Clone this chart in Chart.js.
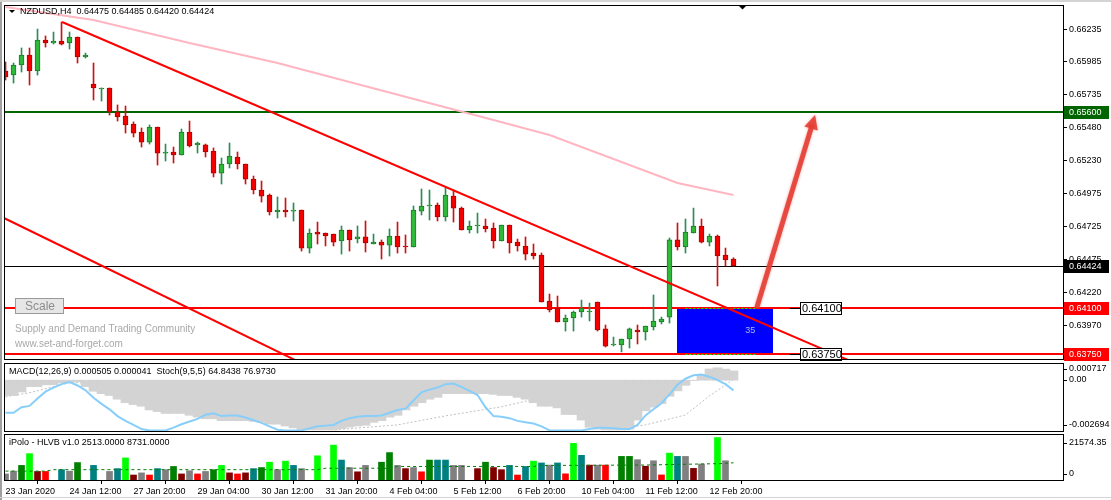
<!DOCTYPE html>
<html>
<head>
<meta charset="utf-8">
<title>NZDUSD,H4</title>
<script src="https://cdn.jsdelivr.net/npm/chart.js@4.4.1/dist/chart.umd.min.js"></script>
<style>
  html, body { margin: 0; padding: 0; background: #ffffff; }
  #wrap { position: relative; width: 1111px; height: 500px; overflow: hidden; background: #ffffff; }
  #wrap canvas { position: absolute; left: 0; }
  #mainChart { top: 0; }
  #macdChart { top: 361px; }
  #volChart { top: 432px; }
  .edge { position: absolute; }
</style>
</head>
<body>
<div id="wrap">
  <canvas id="mainChart" width="1111" height="362"></canvas>
  <canvas id="macdChart" width="1111" height="71"></canvas>
  <canvas id="volChart" width="1111" height="68"></canvas>
  <div class="edge" style="left:0;top:0;width:2px;height:500px;background:#a0a0a0"></div>
  <div class="edge" style="left:0;top:0;width:1111px;height:2px;background:#d4d4d4"></div>
  <div class="edge" style="left:0;top:497px;width:1111px;height:1px;background:#d4d4d4"></div>
</div>
<script>
document.addEventListener('DOMContentLoaded', function () {

    // ---- data ----
    const dateLabels = ['23 Jan 2020', '24 Jan 12:00', '27 Jan 20:00', '29 Jan 04:00', '30 Jan 12:00', '31 Jan 20:00',
        '4 Feb 04:00', '5 Feb 12:00', '6 Feb 20:00', '10 Feb 04:00', '11 Feb 12:00', '12 Feb 20:00'];
    const dateIdx = [0, 8, 16, 24, 32, 40, 48, 56, 64, 72, 80, 88];
    const priceTicks = [0.66235, 0.65985, 0.65735, 0.65480, 0.65230, 0.64975, 0.64725, 0.64475, 0.64220, 0.63970, 0.63720];

    const openP = [0.65914, 0.65883, 0.65960, 0.66036, 0.65914, 0.66151, 0.66128, 0.66143, 0.66128, 0.66174,
        0.66021, 0.65814, 0.65776, 0.65784, 0.65600, 0.65569, 0.65508, 0.65447, 0.65370, 0.65485,
        0.65286, 0.65294, 0.65271, 0.65447, 0.65348, 0.65348, 0.65302, 0.65133, 0.65202, 0.65256,
        0.65202, 0.65087, 0.65003, 0.64965, 0.64835, 0.64850, 0.64842, 0.64850, 0.64559, 0.64682,
        0.64674, 0.64666, 0.64613, 0.64697, 0.64628, 0.64644, 0.64590, 0.64605, 0.64582, 0.64651,
        0.64575, 0.64567, 0.64842, 0.64881, 0.64888, 0.64797, 0.64957, 0.64865, 0.64697, 0.64728,
        0.64728, 0.64712, 0.64613, 0.64735, 0.64605, 0.64575, 0.64521, 0.64506, 0.64154, 0.64100,
        0.63993, 0.64024, 0.64070, 0.64070, 0.64146, 0.63940, 0.63817, 0.63817, 0.63863, 0.63932,
        0.63917, 0.63955, 0.63993, 0.64031, 0.64621, 0.64567, 0.64674, 0.64728, 0.64605, 0.64651,
        0.64506, 0.64475];
    const highP = [0.65983, 0.65975, 0.66090, 0.66090, 0.66235, 0.66182, 0.66212, 0.66289, 0.66212, 0.66174,
        0.66051, 0.65975, 0.65784, 0.65784, 0.65654, 0.65646, 0.65524, 0.65478, 0.65501, 0.65485,
        0.65355, 0.65332, 0.65470, 0.65531, 0.65370, 0.65355, 0.65325, 0.65248, 0.65363, 0.65294,
        0.65202, 0.65110, 0.65072, 0.64973, 0.64950, 0.64942, 0.64904, 0.64850, 0.64705, 0.64758,
        0.64674, 0.64666, 0.64728, 0.64697, 0.64728, 0.64766, 0.64666, 0.64621, 0.64705, 0.64758,
        0.64659, 0.64881, 0.65011, 0.65003, 0.64904, 0.65018, 0.65003, 0.64873, 0.64766, 0.64827,
        0.64781, 0.64751, 0.64735, 0.64735, 0.64628, 0.64644, 0.64590, 0.64521, 0.64207, 0.64192,
        0.64047, 0.64077, 0.64161, 0.64138, 0.64146, 0.63970, 0.63878, 0.63863, 0.63947, 0.63970,
        0.63962, 0.64200, 0.64031, 0.64636, 0.64751, 0.64781, 0.64865, 0.64781, 0.64666, 0.64659,
        0.64559, 0.64485];
    const lowP = [0.65845, 0.65822, 0.65906, 0.65807, 0.65883, 0.66097, 0.66120, 0.66113, 0.66082, 0.65975,
        0.66013, 0.65692, 0.65684, 0.65577, 0.65531, 0.65439, 0.65409, 0.65332, 0.65355, 0.65194,
        0.65225, 0.65210, 0.65271, 0.65332, 0.65286, 0.65256, 0.65103, 0.65049, 0.65172, 0.65164,
        0.65049, 0.64973, 0.64911, 0.64812, 0.64789, 0.64797, 0.64766, 0.64536, 0.64521, 0.64590,
        0.64575, 0.64575, 0.64513, 0.64536, 0.64598, 0.64529, 0.64590, 0.64475, 0.64498, 0.64521,
        0.64521, 0.64567, 0.64812, 0.64774, 0.64766, 0.64766, 0.64758, 0.64697, 0.64674, 0.64674,
        0.64682, 0.64559, 0.64613, 0.64521, 0.64536, 0.64468, 0.64475, 0.64146, 0.64070, 0.63993,
        0.63924, 0.63924, 0.64031, 0.64001, 0.63924, 0.63802, 0.63809, 0.63764, 0.63794, 0.63825,
        0.63855, 0.63932, 0.63978, 0.63985, 0.64544, 0.64521, 0.64674, 0.64598, 0.64575, 0.64269,
        0.64422, 0.64420];
    const closeP = [0.65868, 0.65960, 0.66036, 0.65914, 0.66151, 0.66128, 0.66143, 0.66120, 0.66174, 0.66021,
        0.66036, 0.65784, 0.65784, 0.65600, 0.65562, 0.65501, 0.65439, 0.65370, 0.65485, 0.65286,
        0.65294, 0.65271, 0.65447, 0.65340, 0.65363, 0.65294, 0.65133, 0.65202, 0.65263, 0.65202,
        0.65087, 0.65003, 0.64957, 0.64835, 0.64850, 0.64835, 0.64850, 0.64559, 0.64674, 0.64666,
        0.64651, 0.64605, 0.64697, 0.64621, 0.64644, 0.64598, 0.64605, 0.64582, 0.64651, 0.64567,
        0.64567, 0.64850, 0.64881, 0.64888, 0.64797, 0.64965, 0.64865, 0.64697, 0.64728, 0.64735,
        0.64705, 0.64613, 0.64735, 0.64598, 0.64575, 0.64513, 0.64498, 0.64146, 0.64085, 0.63993,
        0.64024, 0.64070, 0.64100, 0.64077, 0.63932, 0.63809, 0.63825, 0.63863, 0.63940, 0.63917,
        0.63962, 0.64001, 0.64016, 0.64621, 0.64567, 0.64682, 0.64728, 0.64605, 0.64651, 0.64498,
        0.64468, 0.64424];

    // pink moving average, read at a few bars
    const maIdx = [0, 11, 23, 34, 61, 68, 84, 91];
    const maVal = [0.66403, 0.66304, 0.66128, 0.65975, 0.65539, 0.65424, 0.65057, 0.64965];

    // drawn objects: two trend lines, zone, arrow, levels
    const trendAIdx = [7.07, 105.6];
    const trendAPrice = [0.66289, 0.63695];
    const trendBIdx = [-0.2, 36.2];
    const trendBPrice = [0.64789, 0.63702];
    const levelPrices = [0.65600, 0.64424, 0.64100, 0.63750];
    const zoneIdx = [83.9, 95.9];
    const zonePrice = [0.64100, 0.63750];
    const zoneDashIdx = [85, 94];
    const zoneLabelIdx = 99.3;
    const zoneCountIdx = 93.1;
    const arrowIdx = [93.9, 101.2];
    const arrowPrice = [0.64100, 0.65577];

    // MACD / Stoch panel
    const macdHist = [-0.00083, -0.00083, -0.00064, -0.00035, -0.00035, -0.00025, -0.00025, -0.00015, -0.0001, -0.0001,
        -0.00035, -0.0006, -0.00073, -0.00083, -0.00103, -0.00122, -0.00132, -0.00141, -0.00161, -0.0017,
        -0.0018, -0.0018, -0.0018, -0.0019, -0.002, -0.00209, -0.00209, -0.00219, -0.00219, -0.00219,
        -0.00219, -0.00223, -0.00228, -0.00238, -0.00238, -0.00248, -0.00258, -0.00267, -0.00269, -0.00269,
        -0.00269, -0.00269, -0.00262, -0.00254, -0.00248, -0.00244, -0.00228, -0.00219, -0.002, -0.0019,
        -0.00161, -0.00141, -0.00122, -0.00103, -0.00093, -0.00073, -0.00073, -0.00073, -0.00073, -0.00073,
        -0.00073, -0.00077, -0.00083, -0.00083, -0.00093, -0.00103, -0.00122, -0.00141, -0.00141, -0.0015,
        -0.00186, -0.00186, -0.00216, -0.00255, -0.00265, -0.00269, -0.00269, -0.00269, -0.00265, -0.00216,
        -0.00166, -0.00146, -0.00127, -0.00087, -0.00058, -0.00028, -0.00002, 0.00032, 0.00061, 0.00067,
        0.0006, 0.000505];
    const macdSigIdx = [0, 3, 8, 12, 18, 24, 30, 36, 41, 49, 55, 62, 69, 78, 80, 85, 88, 91];
    const macdSigVal = [-0.0009, -0.00068, -0.00014, -0.00014, -0.00063, -0.00134, -0.00188, -0.00237, -0.00269,
        -0.00242, -0.00193, -0.00144, -0.00074, -0.00253, -0.00242, -0.00188, -0.00085, 0.000041];
    const stochMain = [32, 32, 40, 42, 53, 63, 69, 74, 77, 72, 65, 54, 45, 37, 27, 20, 14, 8, 6, 6,
        6, 10, 15, 19, 23, 29, 31, 27, 28, 28, 25, 21, 17, 12, 7, 6, 6, 6, 9, 12,
        13, 14, 20, 24, 26, 27, 27, 28, 32, 36, 38, 50, 62, 66, 69, 74, 75, 70, 64, 58,
        40, 27, 26, 24, 20, 18, 16, 12, 6, 6, 6, 6, 6, 8, 10, 10, 9, 8, 8, 14,
        28, 37, 46, 59, 73, 82, 87, 88, 85, 80, 74, 64.84];

    // volume panel
    const volume = [3074, 4520, 7413, 13379, 4339, 4339, 0, 5243, 4520, 8859,
        0, 7413, 0, 4339, 5786, 11210, 2531, 3616, 2531, 5786,
        5243, 6870, 3074, 4701, 3074, 4339, 5243, 7413, 3616, 3074,
        3616, 5786, 6328, 9040, 5243, 9582, 7413, 5786, 0, 12294,
        0, 17718, 10125, 6328, 4158, 7413, 0, 9040, 13922, 7413,
        5786, 6328, 4158, 10125, 10125, 10125, 7413, 7413, 0, 5786,
        9040, 6328, 5243, 7413, 2531, 6870, 9582, 8662, 7556, 8662,
        3133, 18614, 12532, 7556, 7556, 7556, 0, 11980, 11980, 10321,
        7003, 9768, 2580, 13638, 11980, 11980, 5898, 8109, 0, 21574,
        9768, 0];
    const volKind = ['gy', 'gy', 'dg', 'lm', 'mr', 'rd', '', 'tl', 'gy', 'dg',
        '', 'tl', '', 'gy', 'tl', 'lm', 'mr', 'gy', 'rd', 'tl',
        'gy', 'dg', 'mr', 'gy', 'rd', 'gy', 'dg', 'lm', 'mr', 'rd',
        'mr', 'tl', 'dg', 'lm', 'gy', 'lm', 'tl', 'gy', '', 'lm',
        '', 'lm', 'tl', 'gy', 'mr', 'gy', '', 'dg', 'dg', 'gy',
        'mr', 'gy', 'rd', 'dg', 'tl', 'tl', 'gy', 'gy', '', 'mr',
        'dg', 'mr', 'mr', 'tl', 'rd', 'tl', 'lm', 'tl', 'gy', 'tl',
        'rd', 'lm', 'tl', 'mr', 'gy', 'rd', '', 'dg', 'dg', 'gy',
        'mr', 'gy', 'rd', 'lm', 'tl', 'gy', 'mr', 'gy', '', 'lm',
        'gy', ''];
    const volAvgIdx = [0, 5, 6, 39, 40, 48, 49, 66, 67, 80, 89, 91];
    const volAvgVal = [4520, 4520, 5243, 5243, 5966, 5966, 6870, 6870, 7372, 7600, 8294, 8731];

    // ---- styling ----
    const FONT = 'Liberation Sans';
    Chart.defaults.font.family = FONT;
    Chart.defaults.font.size = 9;
    Chart.defaults.color = '#000000';

    const X_MIN = -0.19, X_MAX = 132.19;
    const volColors = { gy: '#808080', dg: '#008000', lm: '#00ff00', tl: '#008080', mr: '#800000', rd: '#ff0000', '': '#ffffff' };

    const idx = openP.map((o, i) => i);
    const bull = idx.map(i => closeP[i] >= openP[i]);
    const pts = (xs, ys) => xs.map((v, k) => ({ x: v, y: ys[k] }));

    const hiddenX = { type: 'linear', min: X_MIN, max: X_MAX, display: false, offset: false };
    const baseOptions = {
        responsive: false,
        animation: false,
        events: [],
        plugins: { legend: { display: false }, tooltip: { enabled: false } }
    };

    function fixedWidth(scale) {
        scale.width = 48;
        scale.paddingTop = 0;
        scale.paddingBottom = 0;
    }

    // panel border + right side labels for the sub windows
    const panelDecor = {
        id: 'panelDecor',
        afterDraw(chart, args, opts) {
            const { ctx, chartArea: a } = chart;
            const ys = chart.scales.y;
            const inset = opts.inset || 6;
            ctx.save();
            ctx.strokeStyle = '#000';
            ctx.lineWidth = 1;
            ctx.strokeRect(a.left + 0.5, a.top + 0.5, a.right - a.left, a.bottom - a.top);
            ctx.font = '9px "' + FONT + '"';
            ctx.fillStyle = '#000';
            ctx.textBaseline = 'middle';
            if (opts.title) ctx.fillText(opts.title, a.left + 5, a.top + 9);
            (opts.tags || []).forEach(t => {
                const raw = ys.getPixelForValue(t.value);
                const yy = Math.round(Math.min(Math.max(raw, a.top + inset), a.bottom - 6));
                ctx.beginPath();
                ctx.moveTo(a.right, yy + 0.5);
                ctx.lineTo(a.right + 4, yy + 0.5);
                ctx.stroke();
                ctx.fillText(t.text, a.right + 6, yy);
            });
            ctx.restore();
        }
    };

    const mainDecor = {
        id: 'mainDecor',
        beforeDatasetsDraw(chart) {
            const { ctx, chartArea: a, scales: { x, y } } = chart;
            ctx.save();
            ctx.beginPath();
            ctx.rect(a.left, a.top, a.right - a.left, a.bottom - a.top);
            ctx.clip();
            // blue zone
            const zx1 = x.getPixelForValue(zoneIdx[0]), zx2 = x.getPixelForValue(zoneIdx[1]);
            const zy1 = y.getPixelForValue(zonePrice[0]), zy2 = y.getPixelForValue(zonePrice[1]);
            ctx.fillStyle = '#0000ff';
            ctx.fillRect(Math.round(zx1), Math.round(zy1), Math.round(zx2 - zx1), Math.round(zy2 - zy1));
            // level lines
            const lvlColor = ['#006400', '#000000', '#ff0000', '#ff0000'];
            const lvlWidth = [2, 1, 2, 2];
            levelPrices.forEach((p, k) => {
                const yy = Math.round(y.getPixelForValue(p));
                ctx.fillStyle = lvlColor[k];
                ctx.fillRect(a.left, yy - (lvlWidth[k] > 1 ? 1 : 0), a.right - a.left, lvlWidth[k]);
            });
            // dotted green on the zone edges
            ctx.strokeStyle = '#00ff00';
            ctx.lineWidth = 1;
            ctx.setLineDash([2, 2]);
            zonePrice.forEach(p => {
                const yy = Math.round(y.getPixelForValue(p)) + 0.5;
                ctx.beginPath();
                ctx.moveTo(x.getPixelForValue(zoneDashIdx[0]), yy);
                ctx.lineTo(x.getPixelForValue(zoneDashIdx[1]), yy);
                ctx.stroke();
            });
            ctx.restore();
        },
        afterDatasetsDraw(chart) {
            const { ctx, chartArea: a, scales: { x, y } } = chart;
            ctx.save();
            // arrow
            const x1 = x.getPixelForValue(arrowIdx[0]), y1 = y.getPixelForValue(arrowPrice[0]);
            const x2 = x.getPixelForValue(arrowIdx[1]), y2 = y.getPixelForValue(arrowPrice[1]);
            const ang = Math.atan2(y2 - y1, x2 - x1);
            const c = Math.cos(ang), s = Math.sin(ang);
            ctx.strokeStyle = 'rgba(228, 62, 52, 0.9)';
            ctx.fillStyle = 'rgba(228, 62, 52, 0.9)';
            ctx.shadowColor = 'rgba(228, 62, 52, 0.5)';
            ctx.shadowBlur = 3;
            ctx.lineWidth = 5;
            ctx.beginPath();
            ctx.moveTo(x1, y1);
            ctx.lineTo(x2 - 10 * c, y2 - 10 * s);
            ctx.stroke();
            ctx.beginPath();
            ctx.moveTo(x2, y2);
            ctx.lineTo(x2 - 14 * c + 7 * s, y2 - 14 * s - 7 * c);
            ctx.lineTo(x2 - 14 * c - 7 * s, y2 - 14 * s + 7 * c);
            ctx.closePath();
            ctx.fill();
            ctx.shadowBlur = 0;
            ctx.shadowColor = 'transparent';
            // count inside the zone
            ctx.font = '9px "' + FONT + '"';
            ctx.fillStyle = '#a8b8ff';
            ctx.textAlign = 'center';
            ctx.textBaseline = 'middle';
            ctx.fillText('35', x.getPixelForValue(zoneCountIdx), y.getPixelForValue((zonePrice[0] + zonePrice[1]) / 2));
            // price boxes at the zone edges
            ctx.textAlign = 'left';
            ctx.font = '11px "' + FONT + '"';
            const bx = Math.round(x.getPixelForValue(zoneLabelIdx));
            zonePrice.forEach(p => {
                const yy = Math.round(y.getPixelForValue(p));
                ctx.strokeStyle = '#000';
                ctx.lineWidth = 1;
                ctx.beginPath();
                ctx.moveTo(bx - 10, yy + 0.5);
                ctx.lineTo(bx, yy + 0.5);
                ctx.stroke();
                ctx.fillStyle = '#ffffff';
                ctx.fillRect(bx, yy - 6, 42, 13);
                ctx.strokeRect(bx + 0.5, yy - 5.5, 41, 12);
                ctx.fillStyle = '#000';
                ctx.fillText(p.toFixed(5), bx + 2, yy + 1);
            });
            ctx.restore();
        },
        afterDraw(chart) {
            const { ctx, chartArea: a, scales: { y } } = chart;
            ctx.save();
            ctx.strokeStyle = '#000';
            ctx.lineWidth = 1;
            ctx.strokeRect(a.left + 0.5, a.top + 0.5, a.right - a.left, a.bottom - a.top);
            // coloured price tags on the axis
            const tagBg = ['#006400', '#000000', '#ff0000', '#ff0000'];
            ctx.font = '9px "' + FONT + '"';
            ctx.textBaseline = 'middle';
            levelPrices.forEach((p, k) => {
                const yy = Math.round(y.getPixelForValue(p));
                ctx.fillStyle = tagBg[k];
                ctx.fillRect(a.right + 1, yy - 6, 45, 13);
                ctx.fillStyle = '#ffffff';
                ctx.fillText(p.toFixed(5), a.right + 6, yy + 1);
            });
            // title
            ctx.fillStyle = '#000';
            ctx.beginPath();
            ctx.moveTo(9, 10); ctx.lineTo(15, 10); ctx.lineTo(12, 13); ctx.closePath();
            ctx.fill();
            ctx.fillText('NZDUSD,H4  0.64475 0.64485 0.64420 0.64424', 20, 12);
            // shift marker
            ctx.beginPath();
            ctx.moveTo(738, 5); ctx.lineTo(747, 5); ctx.lineTo(742.5, 9.5); ctx.closePath();
            ctx.fill();
            // scale button and notes
            ctx.fillStyle = '#e6e6e6';
            ctx.fillRect(15, 298, 49, 16);
            ctx.strokeStyle = '#9a9a9a';
            ctx.strokeRect(15.5, 298.5, 48, 15);
            ctx.fillStyle = '#8c8c8c';
            ctx.font = '12px "' + FONT + '"';
            ctx.textAlign = 'center';
            ctx.fillText('Scale', 40, 307);
            ctx.textAlign = 'left';
            ctx.font = '10px "' + FONT + '"';
            ctx.fillStyle = '#a8a8a8';
            ctx.fillText('Supply and Demand Trading Community', 15, 329);
            ctx.fillText('www.set-and-forget.com', 15, 344);
            ctx.restore();
        }
    };

    // ---- main price window ----
    new Chart(document.getElementById('mainChart'), {
        type: 'bar',
        data: {
            datasets: [
                {
                    type: 'line', data: pts(trendAIdx, trendAPrice), borderColor: '#ff0000', borderWidth: 2,
                    pointRadius: 0, order: 0, clip: 0
                },
                {
                    type: 'line', data: pts(trendBIdx, trendBPrice), borderColor: '#ff0000', borderWidth: 2,
                    pointRadius: 0, order: 0, clip: 0
                },
                {
                    type: 'line', data: pts(maIdx, maVal), borderColor: '#ffb6c1', borderWidth: 2,
                    pointRadius: 0, order: 1, clip: 0
                },
                {
                    label: 'body',
                    data: idx.map(i => ({ x: i, y: [openP[i], closeP[i]] })),
                    backgroundColor: bull.map(b => b ? '#2fb83a' : '#f20000'),
                    borderColor: bull.map(b => b ? '#1f7a2a' : '#b00000'),
                    borderWidth: 1,
                    borderSkipped: false,
                    barThickness: 5,
                    minBarLength: 1,
                    grouped: false,
                    order: 2
                },
                {
                    label: 'wick',
                    data: idx.map(i => ({ x: i, y: [lowP[i], highP[i]] })),
                    backgroundColor: bull.map(b => b ? '#2e8b57' : '#c81414'),
                    barThickness: 1,
                    grouped: false,
                    order: 3
                }
            ]
        },
        options: {
            ...baseOptions,
            layout: { padding: { left: 4, top: 5, right: 0, bottom: 3 } },
            scales: {
                x: hiddenX,
                y: {
                    position: 'right',
                    min: 0.63710,
                    max: 0.66419,
                    beginAtZero: false,
                    border: { display: false },
                    grid: { drawOnChartArea: false, drawTicks: true, tickLength: 4, color: '#000' },
                    ticks: { autoSkip: false, padding: 2, color: '#000', font: { family: FONT, size: 9 }, callback: v => v.toFixed(5) },
                    afterBuildTicks: s => { s.ticks = priceTicks.map(v => ({ value: v })); },
                    afterFit: fixedWidth
                }
            }
        },
        plugins: [mainDecor]
    });

    // ---- MACD + Stoch window ----
    new Chart(document.getElementById('macdChart'), {
        type: 'bar',
        data: {
            datasets: [
                {
                    type: 'line', data: stochMain.map((v, i) => ({ x: i, y: v })), yAxisID: 'ys',
                    borderColor: '#87cefa', borderWidth: 2, pointRadius: 0, order: 0, clip: 0
                },
                {
                    data: macdHist.map((v, i) => ({ x: i, y: v })),
                    backgroundColor: '#d3d3d3', barThickness: 9, grouped: false, order: 1
                },
                {
                    type: 'line', data: pts(macdSigIdx, macdSigVal), borderColor: '#c0c0c0', borderWidth: 1,
                    borderDash: [2, 2], pointRadius: 0, order: 2, clip: 0
                }
            ]
        },
        options: {
            ...baseOptions,
            layout: { padding: { left: 4, top: 2, right: 0, bottom: 1 } },
            plugins: {
                ...baseOptions.plugins,
                panelDecor: {
                    title: 'MACD(12,26,9) 0.000505 0.000041  Stoch(9,5,5) 64.8438 76.9730',
                    inset: 6,
                    tags: [{ value: 0.000717, text: '0.000717' }, { value: 0, text: '0.00' }, { value: -0.002694, text: '-0.002694' }]
                }
            },
            scales: {
                x: hiddenX,
                y: {
                    position: 'right', min: -0.00275, max: 0.00093, beginAtZero: false,
                    border: { display: false }, grid: { display: false }, ticks: { display: false },
                    afterFit: fixedWidth
                },
                ys: { position: 'right', min: 5.1, max: 105.1, display: false }
            }
        },
        plugins: [panelDecor]
    });

    // ---- volume window ----
    new Chart(document.getElementById('volChart'), {
        type: 'bar',
        data: {
            datasets: [
                {
                    type: 'line', data: pts(volAvgIdx, volAvgVal), borderColor: '#008000', borderWidth: 1,
                    borderDash: [3, 3], pointRadius: 0, order: 0
                },
                {
                    data: volume.map((v, i) => ({ x: i, y: v })),
                    backgroundColor: volKind.map(k => volColors[k]),
                    barThickness: 6, grouped: false, order: 1
                }
            ]
        },
        options: {
            ...baseOptions,
            layout: { padding: { left: 4, top: 2, right: 0, bottom: 2 } },
            plugins: {
                ...baseOptions.plugins,
                panelDecor: {
                    title: 'iPolo - HLVB v1.0 2513.0000 8731.0000',
                    inset: 9,
                    tags: [{ value: 21574.35, text: '21574.35' }, { value: 0, text: '0' }]
                }
            },
            scales: {
                x: {
                    type: 'linear', min: X_MIN, max: X_MAX, offset: false,
                    border: { display: false },
                    grid: { drawOnChartArea: false, drawTicks: true, tickLength: 4, color: '#000' },
                    ticks: {
                        autoSkip: false, align: 'start', padding: 2, maxRotation: 0, color: '#000',
                        font: { family: FONT, size: 9 },
                        callback: v => dateLabels[dateIdx.indexOf(v)]
                    },
                    afterBuildTicks: s => { s.ticks = dateIdx.map(v => ({ value: v })); },
                    afterFit: s => { s.height = 18; s.paddingLeft = 0; s.paddingRight = 0; }
                },
                y: {
                    position: 'right', min: 0, max: 23350,
                    border: { display: false }, grid: { display: false }, ticks: { display: false },
                    afterFit: fixedWidth
                }
            }
        },
        plugins: [panelDecor]
    });
});
</script>
</body>
</html>
